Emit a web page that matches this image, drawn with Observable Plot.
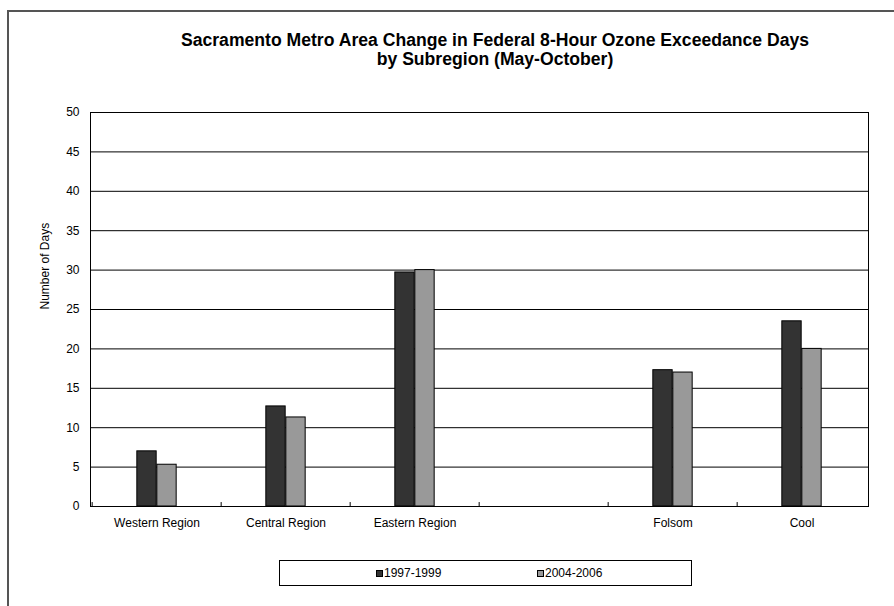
<!DOCTYPE html>
<html>
<head>
<meta charset="utf-8">
<script src="https://cdn.jsdelivr.net/npm/d3@7"></script>
<script src="https://cdn.jsdelivr.net/npm/@observablehq/plot@0.6"></script>
<style>
  html, body { margin: 0; padding: 0; background: #fff; }
  #page {
    position: relative; width: 894px; height: 606px; overflow: hidden;
    background: #fff; font-family: Arial, "Liberation Sans", sans-serif; color: #000;
  }
  #border {
    position: absolute; left: 7px; top: 10px; width: 950px; height: 650px;
    border-left: 2px solid #555; border-top: 2px solid #555;
  }
  #title {
    position: absolute; top: 31px; left: 96px; width: 798px;
    text-align: center; font-weight: bold; font-size: 17.6px; line-height: 19px;
  }
  #chart { position: absolute; left: 0; top: 80px; }
  #legend {
    position: absolute; left: 279px; top: 560px; width: 411px; height: 24px;
    border: 1px solid #000; font-size: 12px;
  }
  .item { position: absolute; top: 6px; line-height: 12px; white-space: nowrap; }
  .swatch {
    display: inline-block; width: 7px; height: 7px; box-sizing: border-box;
    border: 1px solid #000; margin-right: 1px; vertical-align: 0px;
  }
</style>
</head>
<body>
<div id="page">
  <div id="border"></div>
  <div id="title"></div>
  <div id="chart"></div>
  <div id="legend"></div>
</div>
<script>
// Subregions along the x axis (the blank slot separates the regions from the two towns)
const regions = ["Western Region", "Central Region", "Eastern Region", "", "Folsom", "Cool"];
// Average number of federal 8-hour ozone exceedance days, May–October
const days1997 = [7.0, 12.7, 29.7, null, 17.3, 23.5];
const days2004 = [5.3, 11.3, 30.0, null, 17.0, 20.0];
const periods = ["1997-1999", "2004-2006"];
const periodColors = ["#333333", "#999999"];
const yTicks = [0, 5, 10, 15, 20, 25, 30, 35, 40, 45, 50];
const titleLines = [
  "Sacramento Metro Area Change in Federal 8-Hour Ozone Exceedance Days",
  "by Subregion (May-October)"
];
const yLabel = "Number of Days";

// Long-format table for the bars
const rows = [];
regions.forEach((r, i) => {
  if (days1997[i] != null) rows.push({region: r, period: periods[0], days: days1997[i]});
  if (days2004[i] != null) rows.push({region: r, period: periods[1], days: days2004[i]});
});

// Layout
const W = 894, H = 470;
const mL = 90, mR = 26, mT = 32, mB = 44;
const band = (W - mL - mR) / regions.length;
const barW = 20;

const chart = Plot.plot({
  width: W, height: H,
  marginLeft: mL, marginRight: mR, marginTop: mT, marginBottom: mB,
  style: {fontFamily: "Arial, 'Liberation Sans', sans-serif", fontSize: "12px", color: "#000", background: "transparent", overflow: "visible"},
  x: {domain: regions, padding: 0, label: null, tickSize: 0, tickPadding: 12},
  y: {domain: [0, 50], ticks: yTicks, label: null, tickSize: 0, tickPadding: 11},
  color: {domain: periods, range: periodColors},
  marks: [
    Plot.ruleY(yTicks, {stroke: "#000", strokeWidth: 1}),
    // category separators on the x axis
    Plot.ruleX(regions, {x: d => d, dx: -band / 2, y1: 0, y2: 0.5, stroke: "#000"}),
    Plot.barY(rows.filter(d => d.period === periods[0]), {
      x: "region", y: "days", fill: "period", stroke: "#000", strokeWidth: 1,
      insetLeft: band / 2 - barW, insetRight: band / 2
    }),
    Plot.barY(rows.filter(d => d.period === periods[1]), {
      x: "region", y: "days", fill: "period", stroke: "#000", strokeWidth: 1,
      insetLeft: band / 2, insetRight: band / 2 - barW
    }),
    Plot.frame({stroke: "#000", strokeWidth: 1}),
    Plot.text([yLabel], {text: d => d, frameAnchor: "left", dx: -45, rotate: -90, fontSize: 12})
  ]
});
document.getElementById("chart").appendChild(chart);

// Title
const title = document.getElementById("title");
titleLines.forEach(t => {
  const div = document.createElement("div");
  div.textContent = t;
  title.appendChild(div);
});

// Legend
const legend = document.getElementById("legend");
const legendX = [96, 257];
periods.forEach((p, i) => {
  const item = document.createElement("div");
  item.className = "item";
  item.style.left = legendX[i] + "px";
  const sw = document.createElement("span");
  sw.className = "swatch";
  sw.style.background = periodColors[i];
  item.appendChild(sw);
  item.appendChild(document.createTextNode(p));
  legend.appendChild(item);
});
</script>
</body>
</html>
